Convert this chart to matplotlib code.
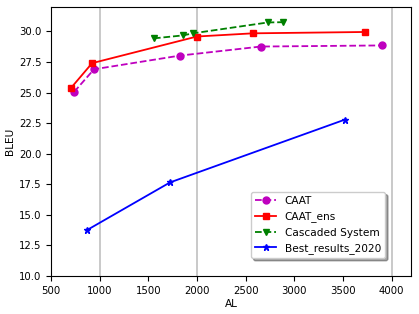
import matplotlib
matplotlib.use("Agg")
import matplotlib.pyplot as plt

caat_al = [736, 941, 1824, 2656, 3898]
caat_bleu = [25.05, 26.9, 28.02, 28.76, 28.85]

ens_al = [705, 921, 1999, 2574, 3724]
ens_bleu = [25.38, 27.4, 29.58, 29.84, 29.95]

cas_al = [1557, 1855, 1958, 2728, 2882]
cas_bleu = [29.43, 29.67, 29.84, 30.73, 30.75]

best_al = [870, 1722, 3518]
best_bleu = [13.76, 17.65, 22.78]

plt.rcParams["font.size"] = 7.3

fig = plt.figure(figsize=(4.19, 3.14), dpi=100)
ax = fig.add_axes([0.122, 0.121, 0.859, 0.857])

for x in [1000, 2000, 4000]:
    ax.axvline(x, color="#c0c0c0", linewidth=1.2, zorder=0)

ax.plot(caat_al, caat_bleu, "m--o", label="CAAT", markersize=5, linewidth=1.3)
ax.plot(ens_al, ens_bleu, "r-s", label="CAAT_ens", markersize=5, linewidth=1.3)
ax.plot(cas_al, cas_bleu, "g--v", label="Cascaded System", markersize=5, linewidth=1.3)
ax.plot(best_al, best_bleu, "b-*", label="Best_results_2020", markersize=5, linewidth=1.3)

ax.set_xlim(500, 4200)
ax.set_ylim(10, 32)
ax.set_xticks([500, 1000, 1500, 2000, 2500, 3000, 3500, 4000])
ax.set_yticks([10, 12.5, 15, 17.5, 20, 22.5, 25, 27.5, 30])
ax.set_xlabel("AL", fontsize=7.6, labelpad=2)
ax.set_ylabel("BLEU", fontsize=7.6, labelpad=3)
ax.legend(loc="lower right", bbox_to_anchor=(0.928, 0.067), borderaxespad=0,
          shadow=True, fancybox=True, fontsize=7.6)

fig.savefig("out.png")
